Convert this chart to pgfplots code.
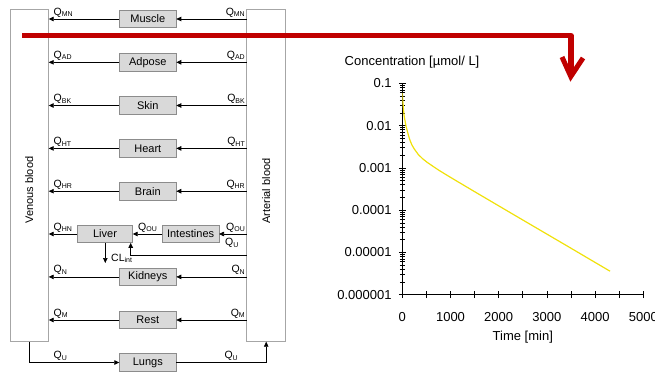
\documentclass[border=0pt]{standalone}
\usepackage{pgfplots}
\pgfplotsset{compat=1.18}
\usepackage{fontspec}
\setmainfont{Liberation Sans}
\usetikzlibrary{arrows.meta}
\definecolor{boxfill}{RGB}{217,217,217}
\definecolor{boxdraw}{RGB}{140,140,140}
\definecolor{blooddraw}{RGB}{166,166,166}
\definecolor{darkred}{RGB}{192,0,0}
\definecolor{curveyellow}{RGB}{240,225,10}
\newcommand{\Q}[1]{Q\raisebox{-1.6pt}{\fontsize{7}{8}\selectfont #1}}
\pgfplotstableread{
t C
0 0.059
10 0.040
25 0.024
40 0.0165
60 0.0125
80 0.0095
100 0.0078
130 0.0058
160 0.0045
200 0.0035
250 0.0028
330 0.0021
420 0.00166
520 0.00135
650 0.00107
782 0.00085
1000 0.00060
1500 0.000275
2000 0.000127
2500 0.0000587
3000 0.0000272
3500 0.0000126
4000 0.00000581
4310 0.0000036
}\conc
\begin{document}
\begin{tikzpicture}[>={Triangle[length=5pt,width=4.5pt]}]
\path[use as bounding box] (0,0) rectangle (655pt,-372pt);
\clip (0,0) rectangle (655pt,-372pt);
\begin{scope}[x=1pt,y=-1pt]
% blood compartments
\draw[blooddraw, line width=0.8pt] (10,9.3) rectangle (48.7,341.7);
\draw[blooddraw, line width=0.8pt] (246.7,9.3) rectangle (285.7,341.7);
\node[rotate=90, font=\fontsize{11}{13}\selectfont] at (29.3,190) {Venous blood};
\node[rotate=90, font=\fontsize{11}{13}\selectfont] at (266.2,191) {Arterial blood};
% organ rows
\foreach \name/\yy/\q in {Muscle/19/MN, Adpose/62.3/AD, Skin/105.5/BK, Heart/148.4/HT, Brain/191.2/HR, Kidneys/276.9/N, Rest/320/M}{
  \draw[boxdraw, fill=boxfill, line width=0.8pt] (119.3,\yy-8.8) rectangle (176.3,\yy+8.8);
  \node[font=\fontsize{11}{13}\selectfont] at (147.8,\yy) {\name};
  \draw[->, line width=0.7pt] (246.7,\yy) -- (176.3,\yy);
  \draw[->, line width=0.7pt] (119.3,\yy) -- (48.7,\yy);
  \node[anchor=base west, inner sep=0pt, font=\fontsize{10.5}{12}\selectfont] at (53.5,\yy-4) {\Q{\q}};
  \node[anchor=base east, inner sep=0pt, font=\fontsize{10.5}{12}\selectfont] at (245,\yy-4) {\Q{\q}};
}
% liver row
\draw[boxdraw, fill=boxfill, line width=0.8pt] (77.3,225.2) rectangle (132.7,242.8);
\node[font=\fontsize{11}{13}\selectfont] at (105,234) {Liver};
\draw[boxdraw, fill=boxfill, line width=0.8pt] (162.3,225.2) rectangle (219,242.8);
\node[font=\fontsize{11}{13}\selectfont] at (190.6,234) {Intestines};
\draw[->, line width=0.7pt] (246.7,234) -- (219,234);
\draw[->, line width=0.7pt] (162.3,234) -- (132.7,234);
\draw[->, line width=0.7pt] (77.3,234) -- (48.7,234);
\node[anchor=base west, inner sep=0pt, font=\fontsize{10.5}{12}\selectfont] at (53.5,230) {\Q{HN}};
\node[anchor=base west, inner sep=0pt, font=\fontsize{10.5}{12}\selectfont] at (138,230) {\Q{OU}};
\node[anchor=base east, inner sep=0pt, font=\fontsize{10.5}{12}\selectfont] at (245,230) {\Q{OU}};
\node[anchor=base west, inner sep=0pt, font=\fontsize{10.5}{12}\selectfont] at (225,245.5) {\Q{U}};
\draw[->, line width=0.7pt] (246.7,255.7) -- (130.7,255.7) -- (130.7,242.8);
\draw[->, line width=0.7pt] (105.3,242.8) -- (105.3,263);
\node[anchor=base west, inner sep=0pt, font=\fontsize{10.5}{12}\selectfont] at (111,261) {CL\raisebox{-1.6pt}{\fontsize{7}{8}\selectfont int}};
% lungs
\draw[boxdraw, fill=boxfill, line width=0.8pt] (119.3,353.7) rectangle (176.3,371.3);
\node[font=\fontsize{11}{13}\selectfont] at (147.8,362.5) {Lungs};
\draw[->, line width=0.7pt] (29.3,341.7) -- (29.3,362.5) -- (119.3,362.5);
\draw[->, line width=0.7pt] (176.3,362.5) -- (266.2,362.5) -- (266.2,341.7);
\node[anchor=base west, inner sep=0pt, font=\fontsize{10.5}{12}\selectfont] at (53.5,358.5) {\Q{U}};
\node[anchor=base east, inner sep=0pt, font=\fontsize{10.5}{12}\selectfont] at (238,358.5) {\Q{U}};
% chart title
\node[anchor=west, inner sep=0pt, font=\fontsize{13}{15}\selectfont] at (344.5,62.5) {Concentration [µmol/ L]};
% red arrow
\draw[darkred, line width=5.5pt, line join=round] (22,35.5) -- (570.8,35.5) -- (570.8,76);
\draw[darkred, line width=5pt, line join=miter, line cap=butt] (562,57) -- (570.8,76.5) -- (583,58);
\end{scope}
\begin{axis}[
  at={(402.3pt,-294.7pt)}, anchor=south west,
  scale only axis, width=241pt, height=211.2pt,
  ymode=log, xmin=0, xmax=5000, ymin=1e-6, ymax=0.1,
  axis x line*=bottom, axis y line*=left,
  axis line style={-, black, line width=0.8pt},
  tick align=center, major tick length=7pt, minor tick length=5pt,
  major tick style={black, line width=0.8pt},
  minor tick style={black, line width=0.8pt},
  xtick={0,500,...,5000},
  xticklabels={0,,1000,,2000,,3000,,4000,,5000},
  ytick={1e-6,1e-5,1e-4,1e-3,1e-2,1e-1},
  yticklabels={0.000001,0.00001,0.0001,0.001,0.01,0.1},
  minor ytick={2e-6,3e-6,4e-6,5e-6,6e-6,7e-6,8e-6,9e-6,
               2e-5,3e-5,4e-5,5e-5,6e-5,7e-5,8e-5,9e-5,
               2e-4,3e-4,4e-4,5e-4,6e-4,7e-4,8e-4,9e-4,
               2e-3,3e-3,4e-3,5e-3,6e-3,7e-3,8e-3,9e-3,
               2e-2,3e-2,4e-2,5e-2,6e-2,7e-2,8e-2,9e-2},
  tick label style={font=\fontsize{13}{15}\selectfont, inner sep=0pt},
  xticklabel style={anchor=base, yshift=-23pt},
  yticklabel style={anchor=east, xshift=-7pt},
  xlabel={Time [min]},
  xlabel style={at={(axis description cs:0.5,0)}, anchor=center, yshift=-42pt, font=\fontsize{13}{15}\selectfont},
]
\addplot[color=curveyellow, line width=1.2pt, no marks] table[x=t, y=C] {\conc};
\end{axis}
\end{tikzpicture}
\end{document}
